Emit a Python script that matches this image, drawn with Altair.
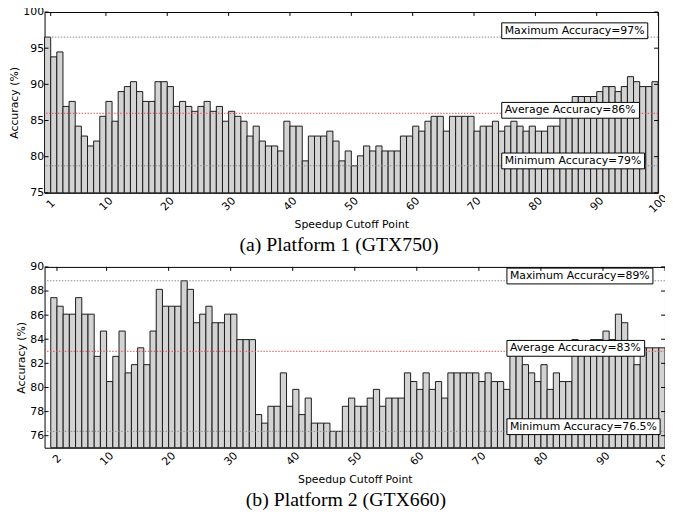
import altair as alt
import pandas as pd

# ---------------- data ----------------
CUTOFF_A = list(range(1, 101))
ACC_A = [96.53, 93.80, 94.48, 86.95, 87.64, 84.22, 82.85, 81.48, 82.16, 85.58,
         87.64, 84.90, 89.00, 89.69, 90.37, 89.00, 87.64, 87.64, 90.37, 90.37,
         89.69, 86.95, 87.64, 86.95, 86.27, 86.95, 87.64, 86.27, 86.95, 84.90,
         86.27, 85.58, 84.90, 82.85, 84.22, 82.16, 81.48, 81.48, 80.79, 84.90,
         84.22, 84.22, 79.42, 82.85, 82.85, 82.85, 83.53, 82.16, 79.42, 80.79,
         78.74, 80.11, 81.48, 80.79, 81.48, 80.79, 80.79, 80.79, 82.85, 82.85,
         84.22, 83.53, 84.90, 85.58, 85.58, 83.53, 85.58, 85.58, 85.58, 85.58,
         83.53, 84.22, 84.22, 84.90, 83.53, 84.22, 84.90, 84.22, 83.53, 84.22,
         83.53, 83.53, 84.22, 84.22, 86.95, 86.95, 88.32, 88.32, 88.32, 88.32,
         89.00, 89.69, 89.69, 89.00, 89.69, 91.06, 90.37, 89.69, 89.69, 90.37]

CUTOFF_B = list(range(2, 101))
ACC_B = [87.45, 86.74, 86.08, 86.08, 87.45, 86.08, 86.08, 82.58, 84.68, 80.49,
         82.58, 84.68, 81.21, 81.89, 83.29, 81.89, 84.68, 88.14, 86.74, 86.74,
         86.74, 88.85, 88.14, 85.37, 86.08, 86.74, 85.37, 85.37, 86.08, 86.08,
         83.97, 83.97, 83.97, 77.75, 77.04, 78.44, 78.44, 81.21, 78.44, 79.84,
         77.75, 79.12, 77.04, 77.04, 77.04, 76.36, 76.36, 78.44, 79.12, 78.44,
         78.44, 79.12, 79.84, 78.44, 79.12, 79.12, 79.12, 81.21, 80.49, 79.84,
         81.21, 79.84, 80.49, 79.12, 81.21, 81.21, 81.21, 81.21, 81.21, 80.49,
         81.21, 80.49, 80.49, 79.84, 83.29, 83.29, 81.89, 81.21, 80.49, 81.89,
         79.84, 81.21, 80.49, 80.49, 83.97, 83.29, 83.29, 83.97, 83.97, 84.68,
         83.97, 86.08, 85.37, 83.29, 81.89, 83.29, 83.29, 83.29, 83.29]

AVG_A = 86.0
AVG_B = 83.0

XTICKS_A = [1, 10, 20, 30, 40, 50, 60, 70, 80, 90, 100]
XTICKS_B = [2, 10, 20, 30, 40, 50, 60, 70, 80, 90, 100]
YTICKS_A = [75, 80, 85, 90, 95, 100]
YTICKS_B = [76, 78, 80, 82, 84, 86, 88, 90]
YDOM_A = [75, 100]
YDOM_B = [75, 90]
XDOM = [0, 100]

LABELS_A = ["Maximum Accuracy=97%", "Average Accuracy=86%", "Minimum Accuracy=79%"]
LABEL_Y_A = [97, 86, 79]
LABELS_B = ["Maximum Accuracy=89%", "Average Accuracy=83%", "Minimum Accuracy=76.5%"]
LABEL_Y_B = [89, 83, 76.5]
LABEL_X = 75

CAPTION_A = "(a) Platform 1 (GTX750)"
CAPTION_B = "(b) Platform 2 (GTX660)"

# ---------------- styling ----------------
FONT = "DejaVu Sans"
SERIF = "Liberation Serif"
FS = 11
# DejaVu Sans advance widths (em)
ADV = {" ": .318, "%": .950, ".": .318, "=": .838, "A": .684, "M": .863,
       "a": .613, "c": .550, "e": .615, "g": .635, "i": .278, "m": .974,
       "n": .634, "r": .411, "u": .634, "v": .592, "x": .592, "y": .592}
for d in "0123456789":
    ADV[d] = .636


def text_px(s, size=FS):
    return sum(ADV.get(ch, 0.6) for ch in s) * size


def make_panel(cutoffs, acc, ydom, yticks, xticks, avg, labels, label_y,
               caption, width, height):
    df = pd.DataFrame({"cutoff": cutoffs, "acc": acc})
    df["left"] = df["cutoff"] - 1
    xs = alt.Scale(domain=XDOM, nice=False, zero=False)
    ys = alt.Scale(domain=ydom, nice=False, zero=False)
    x_axis = alt.Axis(values=xticks, title="Speedup Cutoff Point", labelAngle=315,
                      labelAlign="center", labelBaseline="middle", labelPadding=11,
                      labelFont=FONT, labelFontSize=FS, labelColor="black",
                      titleFont=FONT, titleFontSize=FS, titleFontWeight="normal",
                      titleColor="black", titlePadding=4, labelOverlap=False,
                      labelFlush=False, format="d", grid=False, domain=False,
                      tickSize=0, tickOpacity=0)
    y_axis = alt.Axis(values=yticks, title="Accuracy (%)", labelPadding=1,
                      labelFont=FONT, labelFontSize=FS, labelColor="black",
                      titleFont=FONT, titleFontSize=FS, titleFontWeight="normal",
                      titleColor="black", titlePadding=3, labelFlush=False,
                      format="d", grid=False, domain=False, tickSize=0, tickOpacity=0)

    bars = alt.Chart(df).mark_rect(fill="#d3d3d3", stroke="#1a1a1a", strokeWidth=1).encode(
        x=alt.X("left:Q", scale=xs, axis=x_axis),
        x2="cutoff:Q",
        y=alt.Y("acc:Q", scale=ys, axis=y_axis),
        y2=alt.datum(ydom[0]),
    )

    # inward tick marks (matplotlib style) on top, left and right edges
    xt = pd.DataFrame({"t": xticks})
    yt = pd.DataFrame({"t": yticks})
    xt["edge"] = ydom[1]
    yt["lo"] = XDOM[0]
    yt["hi"] = XDOM[1]
    top_ticks = alt.Chart(xt).mark_rule(color="black", strokeWidth=1, y2Offset=4).encode(
        x=alt.X("t:Q", scale=xs, axis=None),
        y=alt.Y("edge:Q", scale=ys, axis=None), y2="edge:Q")
    left_ticks = alt.Chart(yt).mark_rule(color="black", strokeWidth=1, x2Offset=4).encode(
        y=alt.Y("t:Q", scale=ys, axis=None),
        x=alt.X("lo:Q", scale=xs, axis=None), x2="lo:Q")
    right_ticks = alt.Chart(yt).mark_rule(color="black", strokeWidth=1, x2Offset=-4).encode(
        y=alt.Y("t:Q", scale=ys, axis=None),
        x=alt.X("hi:Q", scale=xs, axis=None), x2="hi:Q")

    ext = pd.DataFrame({"value": [max(acc), min(acc)]})
    gray = alt.Chart(ext).mark_rule(color="#8a8a8a", strokeDash=[1.5, 1.5], strokeWidth=1).encode(
        y=alt.Y("value:Q", scale=ys, axis=None))
    red = alt.Chart(pd.DataFrame({"value": [avg]})).mark_rule(
        color="#e0504a", strokeDash=[1.5, 1.5], strokeWidth=1).encode(
        y=alt.Y("value:Q", scale=ys, axis=None))

    ppu = width / 100.0
    ann = pd.DataFrame({"label": labels, "ty": label_y})
    ann["x"] = LABEL_X
    ann["x_end"] = [LABEL_X + (text_px(s) + 3) / ppu for s in labels]
    box = alt.Chart(ann).mark_rect(fill="white", stroke="black", strokeWidth=1,
                                   xOffset=-3, yOffset=-11, y2Offset=5).encode(
        x=alt.X("x:Q", scale=xs, axis=None), x2="x_end:Q",
        y=alt.Y("ty:Q", scale=ys, axis=None), y2="ty:Q")
    txt = alt.Chart(ann).mark_text(align="left", baseline="alphabetic", font=FONT,
                                   fontSize=FS, color="black").encode(
        x=alt.X("x:Q", scale=xs, axis=None),
        y=alt.Y("ty:Q", scale=ys, axis=None),
        text="label:N")

    return alt.layer(bars, gray, red, box, txt, top_ticks, left_ticks, right_ticks).resolve_axis(
        x="independent", y="independent").properties(
        width=width, height=height,
        title=alt.Title(caption, orient="bottom", font=SERIF, fontSize=20,
                        fontWeight="normal", color="black", anchor="middle",
                        frame="bounds", offset=6))


pa = make_panel(CUTOFF_A, ACC_A, YDOM_A, YTICKS_A, XTICKS_A, AVG_A, LABELS_A,
                LABEL_Y_A, CAPTION_A, 621, 183)
pb = make_panel(CUTOFF_B, ACC_B, YDOM_B, YTICKS_B, XTICKS_B, AVG_B, LABELS_B,
                LABEL_Y_B, CAPTION_B, 628, 183)

chart = alt.ConcatChart(concat=[pa, pb], columns=1, spacing=4, align="none",
                        bounds="full").configure_view(
    stroke="black", strokeWidth=1).properties(
    padding={"left": 0, "right": -12, "top": -6, "bottom": 0})

chart.save("out.html", embed_options={"renderer": "svg", "actions": False})
